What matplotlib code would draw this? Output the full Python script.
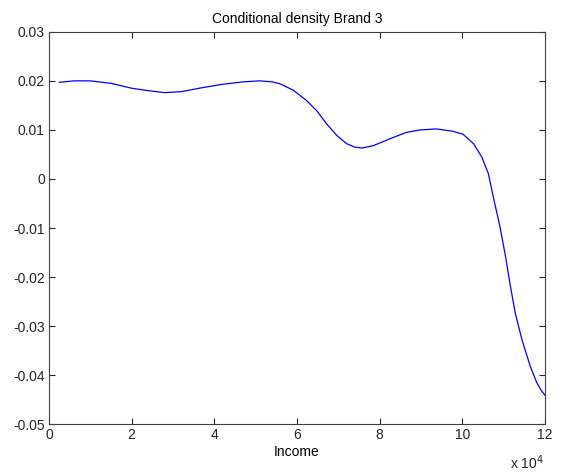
import matplotlib
matplotlib.use('Agg')
import matplotlib.pyplot as plt

# income in units of 1e4, density values
income = [0.25, 0.6, 1.0, 1.5, 2.0, 2.4, 2.8, 3.2, 3.7, 4.2, 4.7, 5.1, 5.4,
          5.59, 5.91, 6.23, 6.48, 6.72, 6.96, 7.2, 7.4, 7.57, 7.85, 8.25, 8.65,
          8.98, 9.38, 9.78, 10.02, 10.27, 10.47, 10.63, 10.75, 10.91, 11.05,
          11.15, 11.28, 11.44, 11.64, 11.8, 11.9, 12.0]
density = [0.0197, 0.0200, 0.0200, 0.0195, 0.0185, 0.0180, 0.0176, 0.0178, 0.0186,
           0.0193, 0.0198, 0.0200, 0.0198, 0.0194, 0.0181, 0.0160, 0.0139, 0.0112,
           0.0089, 0.0072, 0.0065, 0.0063, 0.0068, 0.0082, 0.0095, 0.0100, 0.0102,
           0.0097, 0.0091, 0.0072, 0.0045, 0.0011, -0.0037, -0.0097, -0.0160,
           -0.0212, -0.0273, -0.0327, -0.0381, -0.0415, -0.0430, -0.0441]
xticks = [0, 2, 4, 6, 8, 10, 12]
yticks = [-0.05, -0.04, -0.03, -0.02, -0.01, 0, 0.01, 0.02, 0.03]
ytick_labels = ['-0.05', '-0.04', '-0.03', '-0.02', '-0.01', '0', '0.01', '0.02', '0.03']

plt.rcParams['font.family'] = ['Liberation Sans', 'DejaVu Sans']

fig = plt.figure(figsize=(5.63, 4.75), dpi=100)
ax = fig.add_axes([0.087, 0.107, 0.881, 0.826])
ax.plot(income, density, color='#0000ff', linewidth=0.9)

ax.set_xlim(0, 12)
ax.set_ylim(-0.05, 0.03)
ax.set_xticks(xticks)
ax.set_xticklabels([str(t) for t in xticks])
ax.set_yticks(yticks)
ax.set_yticklabels(ytick_labels)
ax.tick_params(direction='in', top=True, right=True, length=4, width=0.8,
               labelsize=10, colors='#262626', pad=3)
for s in ax.spines.values():
    s.set_color('#404040')
    s.set_linewidth(0.8)

ax.set_title('Conditional density Brand 3', fontsize=10, pad=6)
ax.set_xlabel('Income', fontsize=10, labelpad=2)
fig.text(0.905, 0.012, r'x 10$^{4}$', fontsize=10, color='#262626')

fig.savefig('out.png', dpi=100)
